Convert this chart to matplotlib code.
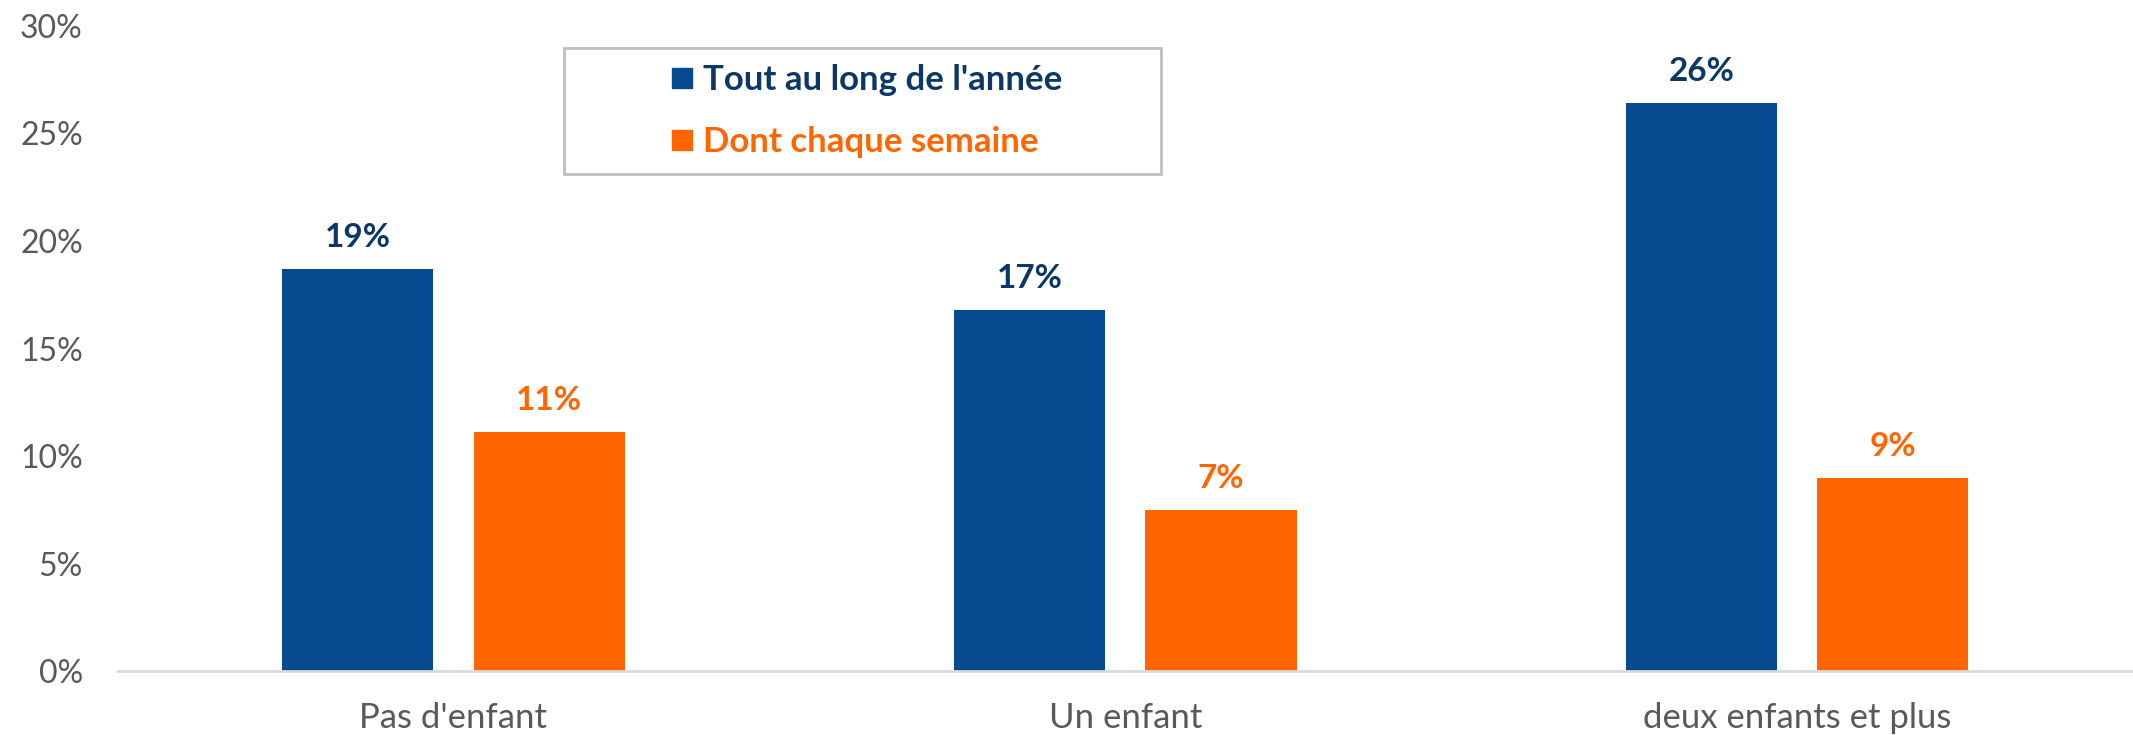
import matplotlib.pyplot as plt
import matplotlib.patches as mpatches
from matplotlib.lines import Line2D
import numpy as np

# Data
categories = ["Pas d'enfant", "Un enfant", "deux enfants et plus"]
annee = [18.7, 16.8, 26.4]
semaine = [11.1, 7.5, 9.0]
annee_labels = ['19%', '17%', '26%']
semaine_labels = ['11%', '7%', '9%']
series_names = ["Tout au long de l'année", "Dont chaque semaine"]

blue = '#074A8F'
orange = '#FF6600'
navy = '#0B3866'
grey = '#595959'

plt.rcParams['font.family'] = ['Lato', 'DejaVu Sans']

fig = plt.figure(figsize=(21.33, 7.35), dpi=100)
ax = fig.add_axes([117.5 / 2133, 63.7 / 735, 1 - 117.5 / 2133, (671.3 - 25.8) / 735])

x = np.arange(len(categories))
w = 0.225
off = 0.1425
b1 = ax.bar(x - off, annee, w, color=blue)
b2 = ax.bar(x + off, semaine, w, color=orange)

# Value labels above bars
for bars, labels, col in [(b1, annee_labels, navy), (b2, semaine_labels, orange)]:
    for bar, lab in zip(bars, labels):
        ax.annotate(lab, (bar.get_x() + bar.get_width() / 2, bar.get_height()),
                    xytext=(0, 15.9), textcoords='offset points',
                    ha='center', va='baseline', fontsize=24, fontweight='bold', color=col)

ax.set_xlim(-0.5, 2.5)
ax.set_ylim(0, 30)
ax.set_yticks(np.arange(0, 31, 5))
ax.set_yticklabels([f'{v}%' for v in range(0, 31, 5)])
ax.set_xticks(x)
ax.set_xticklabels(categories)
ax.tick_params(axis='both', length=0, labelcolor=grey)
ax.tick_params(axis='y', pad=25, labelsize=23)
ax.tick_params(axis='x', pad=22, labelsize=25)

for s in ['top', 'right', 'left']:
    ax.spines[s].set_visible(False)
ax.spines['bottom'].set_color('#D9D9D9')
ax.spines['bottom'].set_linewidth(2)

# Legend box
fig.patches.append(mpatches.Rectangle((564 / 2133, 1 - 174 / 735), (1161 - 564) / 2133, 126 / 735,
                                      transform=fig.transFigure, fill=False,
                                      edgecolor='#BFBFBF', linewidth=2))
handles = [Line2D([], [], marker='s', linestyle='none', markersize=14.5, color=blue),
           Line2D([], [], marker='s', linestyle='none', markersize=14.5, color=orange)]
leg = fig.legend(handles, series_names, loc='center left',
                 bbox_to_anchor=(665 / 2133, 1 - 111 / 735), frameon=False,
                 prop={'size': 25, 'weight': 'bold'}, labelcolor=[navy, orange],
                 handletextpad=0.1, labelspacing=0.85, handlelength=1.0,
                 borderpad=0, borderaxespad=0)

fig.savefig('out.png', dpi=100)
